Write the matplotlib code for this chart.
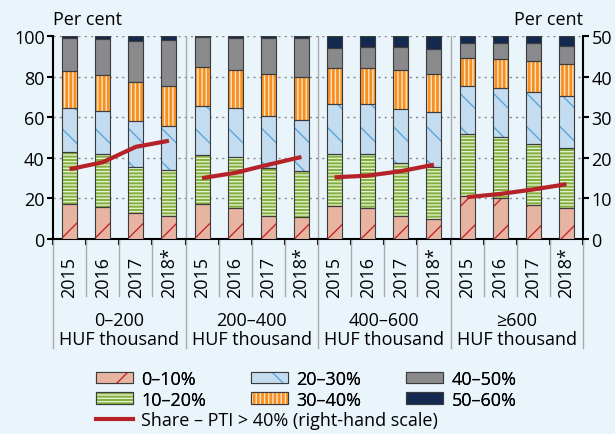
import numpy as np
import matplotlib.pyplot as plt
import matplotlib.patches as mpatches
from matplotlib.lines import Line2D

plt.rcParams['font.family'] = ['Open Sans', 'DejaVu Sans']
plt.rcParams['hatch.linewidth'] = 1.0

# Data
group_ranges = ['0–200', '200–400', '400–600', '≥600']
group_unit = 'HUF thousand'
years = ['2015', '2016', '2017', '2018*']
categories = ['0–10%', '10–20%', '20–30%', '30–40%', '40–50%', '50–60%']

# shares per PTI band, 16 bars (4 groups x 4 years)
s_0_10 = [17.0, 15.9, 12.6, 11.2, 17.1, 15.4, 11.2, 10.7, 16.1, 15.4, 11.5, 10.0, 21.3, 20.0, 16.9, 15.1]
s_10_20 = [26.0, 25.8, 23.0, 23.0, 24.3, 24.8, 23.6, 22.8, 25.9, 26.3, 25.8, 25.3, 30.4, 30.1, 29.9, 29.6]
s_20_30 = [21.7, 21.2, 22.4, 21.6, 24.0, 24.2, 25.6, 25.1, 24.3, 25.0, 26.6, 27.1, 23.5, 24.1, 25.4, 25.9]
s_30_40 = [17.9, 18.1, 19.2, 19.4, 19.2, 19.0, 21.0, 21.0, 17.9, 17.5, 19.2, 19.0, 14.1, 14.5, 15.6, 15.4]
s_40_50 = [16.3, 17.4, 20.3, 23.0, 15.1, 15.6, 17.5, 19.3, 10.1, 10.5, 11.6, 12.0, 7.4, 7.7, 8.6, 9.2]
s_50_60 = [1.1, 1.6, 2.5, 1.8, 0.3, 1.0, 1.1, 1.1, 5.7, 5.3, 5.3, 6.6, 3.3, 3.6, 3.6, 4.8]
pti_share = [17.2, 18.9, 22.7, 24.2, 15.0, 16.3, 18.3, 20.2, 15.2, 15.6, 16.7, 18.3, 10.3, 11.1, 12.2, 13.5]

series = [s_0_10, s_10_20, s_20_30, s_30_40, s_40_50, s_50_60]
fills = ['#e8b4a2', '#83b03c', '#c4dcf0', '#f7901e', '#8a8a8d', '#14294f']
hatch_colors = ['#c4262e', '#e4efcf', '#5ba5da', '#fde3c8', '#8a8a8d', '#14294f']
hatches = ['/', '-----', '\\', '||||', None, None]
edge = '#3c3c3c'
bg = '#eaf4fb'
red = '#b52329'
fs = 13

fig = plt.figure(figsize=(6.15, 4.35), dpi=100, facecolor=bg)
ax = fig.add_axes([53 / 615, 1 - 240 / 435, 530 / 615, 203 / 435])
ax.set_facecolor(bg)

x = np.arange(16)
width = 0.45
bottom = np.zeros(16)
for vals, fc, hc, h in zip(series, fills, hatch_colors, hatches):
    vals = np.array(vals)
    ax.bar(x, vals, width, bottom=bottom, color=fc, edgecolor=hc, hatch=h, linewidth=0, zorder=3)
    ax.bar(x, vals, width, bottom=bottom, fill=False, edgecolor=edge, linewidth=0.8, zorder=4)
    bottom += vals

ax.set_xlim(-0.5, 15.5)
ax.set_ylim(0, 100)
ax.set_yticks(range(0, 101, 20))
ax.tick_params(axis='y', labelsize=fs, length=4, width=1.5, direction='out', pad=2)
for yv in range(20, 101, 20):
    ax.axhline(yv, color='#888888', lw=1, ls=(0, (1.5, 3)), zorder=1)
for xv in [3.5, 7.5, 11.5]:
    ax.axvline(xv, color='#aaaaaa', lw=1, zorder=2)

ax.set_xticks(np.arange(-0.5, 16, 1))
ax.set_xticklabels([])
ax.tick_params(axis='x', length=4, width=1.5, direction='out')
for sp in ['top', 'right']:
    ax.spines[sp].set_visible(False)
ax.spines['left'].set_linewidth(1.5)
ax.spines['bottom'].set_linewidth(1.5)

ax2 = ax.twinx()
ax2.set_ylim(0, 50)
ax2.set_yticks(range(0, 51, 10))
ax2.tick_params(axis='y', labelsize=fs, length=4, width=1.5, pad=2)
for sp in ['top', 'left', 'bottom']:
    ax2.spines[sp].set_visible(False)
ax2.spines['right'].set_linewidth(1.5)
for g in range(4):
    idx = slice(g * 4, g * 4 + 4)
    ax2.plot(x[idx], pti_share[idx], color=red, lw=3, zorder=5, solid_capstyle='butt')

fig.text(53 / 615, 1 - 20 / 435, 'Per cent', fontsize=fs, ha='left', va='center')
fig.text(583 / 615, 1 - 20 / 435, 'Per cent', fontsize=fs, ha='right', va='center')

# category axis labels
trans = ax.get_xaxis_transform()
for i in range(16):
    ax.text(x[i], -0.285, years[i % 4], rotation=90, ha='center', va='bottom',
            fontsize=fs, transform=trans)
for xv in np.arange(-0.5, 16, 1):
    major = (xv + 0.5) % 4 == 0
    ax.plot([xv, xv], [0, -0.535 if major else -0.282], color='#aaaaaa', lw=1,
            transform=trans, clip_on=False)
for g in range(4):
    ax.text(g * 4 + 1.5, -0.424, group_ranges[g], ha='center', va='baseline',
            fontsize=fs, transform=trans)
    ax.text(g * 4 + 1.5, -0.517, group_unit, ha='center', va='baseline',
            fontsize=fs, transform=trans)

# legend
handles = []
for fc, hc, h in zip(fills, hatch_colors, hatches):
    p1 = mpatches.Patch(facecolor=fc, edgecolor=hc, hatch=h, linewidth=0)
    p2 = mpatches.Patch(fill=False, edgecolor=edge, linewidth=0.8)
    handles.append((p1, p2))
leg = fig.legend(handles, categories, ncol=3, loc='upper left',
                 bbox_to_anchor=(96 / 615, 1 - 371 / 435), frameon=False,
                 fontsize=fs, handlelength=2.05, handleheight=0.62,
                 handletextpad=0.45, columnspacing=2.5, labelspacing=0.14,
                 borderpad=0, borderaxespad=0)
fig.legend([Line2D([0], [0], color=red, lw=3)], ['Share – PTI > 40% (right-hand scale)'],
           loc='upper left', bbox_to_anchor=(96 / 615, 1 - 412 / 435), frameon=False,
           fontsize=fs, handlelength=2.05, handletextpad=0.45, borderpad=0, borderaxespad=0)
fig.add_artist(leg)

fig.savefig('out.png', dpi=100, facecolor=bg)
